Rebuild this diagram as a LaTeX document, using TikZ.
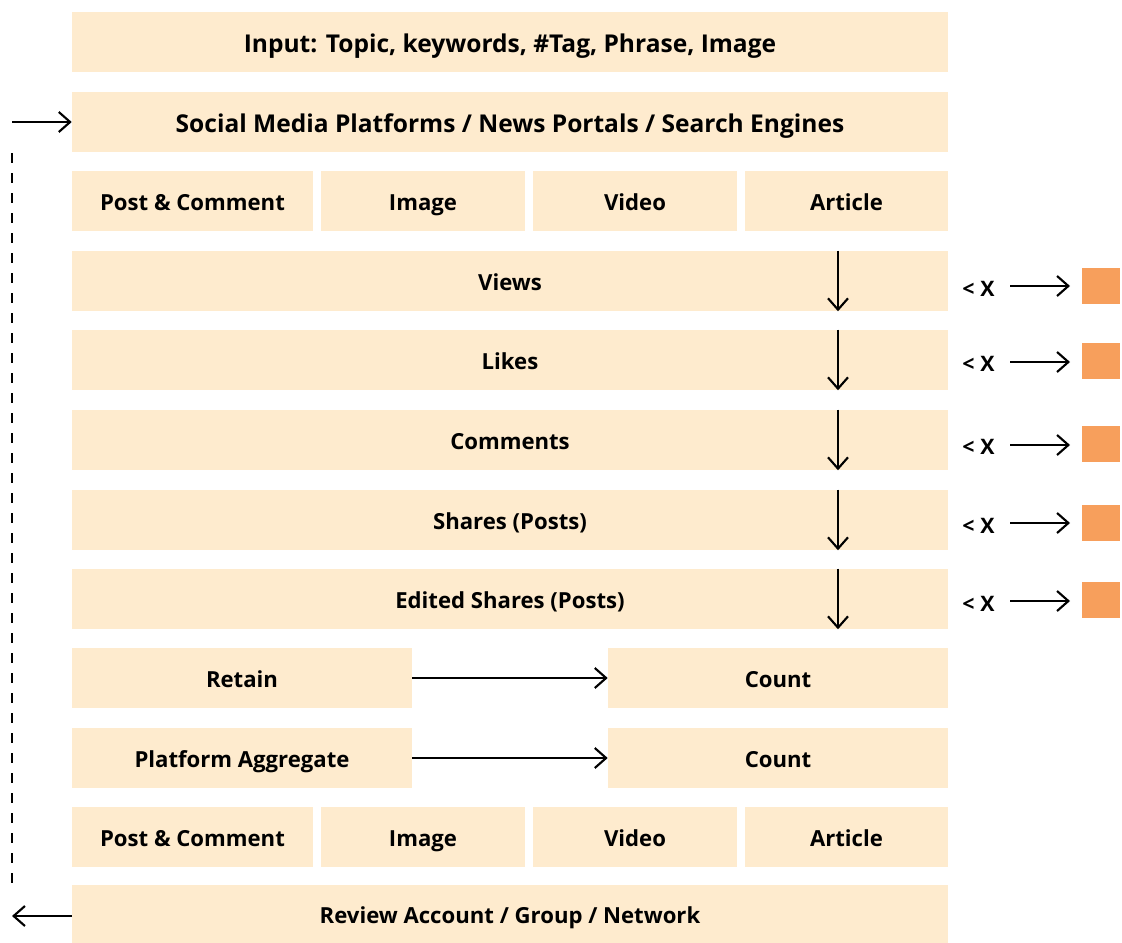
\documentclass[tikz,border=0pt]{standalone}
\usepackage{fontspec}
\setmainfont{Open Sans}
\usetikzlibrary{arrows.meta}
\definecolor{boxfill}{HTML}{FEEBCE}
\definecolor{orangesq}{HTML}{F79F5C}
\tikzset{
  box/.style={fill=boxfill, draw=none, inner sep=0pt, minimum height=45pt,
    font=\fontsize{16.6}{20}\selectfont\bfseries, text=black,
    text height=14.9pt, text depth=0pt},
  bigbox/.style={box, font=\fontsize{18.4}{22}\selectfont\bfseries, text height=16.1pt},
  full/.style={box, minimum width=657pt},
  half/.style={box, minimum width=255pt},
  sq/.style={fill=orangesq, draw=none, inner sep=0pt, minimum width=28.5pt, minimum height=27.5pt},
  lbl/.style={inner sep=0pt, font=\fontsize{16}{18}\selectfont\bfseries, text height=11.4pt, text depth=0pt},
  conn/.style={line width=1.6pt, -{Straight Barb[length=8.5pt,width=15pt,line width=1.6pt]}},
}
\begin{document}
\begin{tikzpicture}[x=0.75pt,y=-0.75pt]
\useasboundingbox (0,0) rectangle (1122,943);
% rows
\node[bigbox, minimum width=657pt] (input) at (510,42) {Input: Topic, keywords, \#Tag, Phrase, Image};
\node[bigbox, minimum width=657pt] (platforms) at (510,122) {Social Media Platforms / News Portals / Search Engines};
\node[box, minimum width=180.75pt] (pc1) at (192.5,201) {Post \& Comment};
\node[box, minimum width=153pt] (img1) at (423,201) {Image};
\node[box, minimum width=153pt] (vid1) at (635,201) {Video};
\node[box, minimum width=152.25pt] (art1) at (846.5,201) {Article};
\node[full] (views) at (510,281) {Views};
\node[full] (likes) at (510,360) {Likes};
\node[full] (comments) at (510,440) {Comments};
\node[full] (shares) at (510,520) {Shares (Posts)};
\node[full] (edited) at (510,599) {Edited Shares (Posts)};
\node[half] (retain) at (242,678) {Retain};
\node[half] (count1) at (778,678) {Count};
\node[half] (aggr) at (242,758) {Platform Aggregate};
\node[half] (count2) at (778,758) {Count};
\node[box, minimum width=180.75pt] (pc2) at (192.5,837) {Post \& Comment};
\node[box, minimum width=153pt] (img2) at (423,837) {Image};
\node[box, minimum width=153pt] (vid2) at (635,837) {Video};
\node[box, minimum width=152.25pt] (art2) at (846.5,837) {Article};
\node[box, minimum width=657pt, minimum height=43.5pt] (review) at (510,914) {Review Account / Group / Network};

% down arrows inside metric rows
\foreach \n in {views,likes,comments,shares,edited}{
  \draw[conn] (\n.north -| 838,0) -- (\n.south -| 838,0);
}

% threshold labels, arrows, squares
\foreach \n/\y/\ya/\ys in {vx/289/286/286, lx/364/362/361, cx/447/445/444, sx/526/523/523, ex/604/601/600}{
  \node[lbl, anchor=west] (\n) at (962,\y) {<\hspace{4.5pt}X};
  \node[sq] (\n sq) at (1101,\ys) {};
  \draw[conn] (1010,\ya) -- (1070,\ya);
}

% retain / aggregate arrows
\draw[conn] (retain) -- (count1);
\draw[conn] (aggr) -- (count2);

% feedback loop
\coordinate (inStart) at (12,122);
\coordinate (outEnd) at (12,916);
\coordinate (dashTop) at (12,153);
\coordinate (dashBot) at (12,885);
\draw[conn] (inStart) -- (platforms.west);
\draw[conn] (review.west |- outEnd) -- (outEnd);
\draw[line width=1.7pt, dash pattern=on 7.5pt off 7.5pt] (dashTop) -- (dashBot);
\end{tikzpicture}
\end{document}
